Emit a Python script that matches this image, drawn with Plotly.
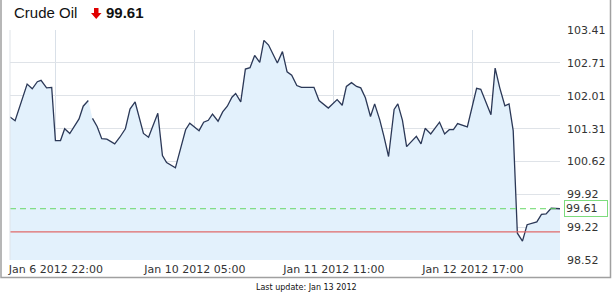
import plotly.graph_objects as go

# trading-time index (hours after Jan 6 2012 22:00, tick every 30)
t = [-9.9, -8.8, -6.2, -5.1, -4.0, -3.2, -2.0, -0.9, -0.1, 1.0, 1.9, 3.0, 5.0, 5.9, 7.0,
     7.9, 8.9, 9.9, 11.0, 12.7, 13.8, 15.0, 16.0, 17.1, 18.9, 20.0, 22.0, 23.0, 23.9, 25.8,
     27.0, 28.0, 28.9, 30.9, 31.9, 32.9, 33.8, 35.0, 36.0, 37.0, 38.0, 38.8, 39.9, 40.9,
     41.9, 42.9, 44.0, 44.9, 45.9, 47.8, 48.9, 49.9, 50.9, 52.0, 53.0, 54.1, 55.7, 56.8,
     58.8, 60.7, 61.8, 62.7, 63.8, 64.9, 65.8, 66.8, 67.9, 68.8, 69.9, 70.8, 71.8, 73.0,
     73.8, 74.8, 75.7, 77.8, 78.8, 79.7, 80.9, 82.8, 83.9, 84.9, 85.8, 86.7, 87.8, 88.8,
     90.8, 91.7, 93.9, 94.8, 95.8, 96.9, 97.8, 98.7, 99.6, 100.7, 101.7, 102.8, 103.8,
     104.8, 105.8, 106.9, 108.8]
price = [101.56, 101.48, 102.26, 102.16, 102.31, 102.34, 102.18, 102.19, 101.06, 101.06,
         101.31, 101.21, 101.52, 101.79, 101.91,
         101.53, 101.36, 101.10, 101.09, 100.99, 101.13, 101.31, 101.73, 101.88, 101.21,
         101.13, 101.64, 100.74, 100.59, 100.48, 100.93, 101.29, 101.43, 101.27, 101.45,
         101.49, 101.62, 101.47, 101.67, 101.79, 101.98, 102.06, 101.88, 102.58, 102.61,
         102.87, 102.72, 103.19, 103.09, 102.71, 102.95, 102.52, 102.45, 102.23, 102.19,
         102.19, 102.19, 101.91, 101.75, 101.93, 101.81, 102.21, 102.29, 102.21, 102.18,
         101.97, 101.57, 101.84, 101.50, 101.15, 100.72, 101.72, 101.84, 101.49, 100.93,
         101.15, 100.99, 101.32, 101.20, 101.45, 101.20, 101.29, 101.29, 101.42, 101.38,
         101.35, 102.17, 102.15, 101.61, 102.60, 102.18, 101.80, 101.84, 101.27, 99.09,
         98.92, 99.27, 99.30, 99.33, 99.49, 99.50, 99.62, 99.61]
gap_after = 15  # data gap in the line after this many points

y_ticks = [98.52, 99.22, 99.92, 100.62, 101.31, 102.01, 102.71, 103.41]
x_tick_vals = [0, 30, 60, 90]
x_tick_text = ["Jan 6 2012 22:00", "Jan 10 2012 05:00", "Jan 11 2012 11:00", "Jan 12 2012 17:00"]
last_price = 99.61
prev_close = 99.12
title = "Crude Oil"
footer = "Last update: Jan 13 2012"

W, H = 612, 300
L, R, T, B = 10, 52, 30, 40
pw, ph = W - L - R, H - T - B


def px(x):
    return (x - L) / pw


def py(y):
    return (H - B - y) / ph


fig = go.Figure()
fig.add_trace(go.Scatter(x=t, y=price, mode="lines", line=dict(width=0),
                         fill="tozeroy", fillcolor="#e3f1fc", hoverinfo="skip",
                         showlegend=False))
line_x = t[:gap_after] + [None] + t[gap_after:]
line_y = price[:gap_after] + [None] + price[gap_after:]
fig.add_trace(go.Scatter(x=line_x, y=line_y, mode="lines",
                         line=dict(color="#2b3857", width=1.3),
                         connectgaps=False, showlegend=False))
fig.add_trace(go.Scatter(x=[t[0], t[-1]], y=[last_price, last_price], mode="lines",
                         line=dict(color="#66d866", width=1, dash="6px,4px"),
                         showlegend=False))
fig.add_trace(go.Scatter(x=[t[0], t[-1]], y=[prev_close, prev_close], mode="lines",
                         line=dict(color="#e06a6a", width=1.2), showlegend=False))

fig.update_layout(
    width=W, height=H,
    margin=dict(l=L, r=R, t=T, b=B, pad=0, autoexpand=False),
    paper_bgcolor="white", plot_bgcolor="white",
    font=dict(family="DejaVu Sans", size=11, color="#333"),
    xaxis=dict(range=[t[0], t[-1]], tickvals=x_tick_vals, ticktext=x_tick_text,
               showgrid=True, gridcolor="#d9e0e8", gridwidth=1, zeroline=False,
               showline=False, ticks="", ticklabelstandoff=1, automargin=False,
               tickfont=dict(size=11, color="#333")),
    yaxis=dict(range=[y_ticks[0], y_ticks[-1]], side="right", tickvals=y_ticks,
               ticktext=[f"{v:.2f}" for v in y_ticks],
               showgrid=True, gridcolor="#dfe3e8", gridwidth=1, zeroline=False,
               showline=False, ticks="", ticklabelstandoff=6, automargin=False,
               tickfont=dict(size=11, color="#333")),
    shapes=[
        # outer frame
        dict(type="rect", xref="paper", yref="paper", x0=px(1), x1=px(610.5),
             y0=py(277.5), y1=py(-5), line=dict(color="#a0a0a0", width=1.5)),
        # left plot edge
        dict(type="line", xref="paper", yref="paper", x0=0, x1=0, y0=0, y1=1,
             line=dict(color="#dfe3e8", width=1)),
        # red down arrow
        dict(type="path", xref="paper", yref="paper",
             path=(f"M {px(94)},{py(8)} L {px(98.5)},{py(8)} L {px(98.5)},{py(13)} "
                   f"L {px(101.5)},{py(13)} L {px(96.2)},{py(19)} L {px(91)},{py(13)} "
                   f"L {px(94)},{py(13)} Z"),
             fillcolor="#e00000", line=dict(width=0)),
    ],
    annotations=[
        dict(text=title, xref="paper", yref="paper", x=px(12), y=py(13),
             xanchor="left", yanchor="middle", showarrow=False,
             font=dict(family="Liberation Sans", size=15, color="#111")),
        dict(text=f"<b>{last_price:.2f}</b>", xref="paper", yref="paper", x=px(104),
             y=py(13), xanchor="left", yanchor="middle", showarrow=False,
             font=dict(family="Liberation Sans", size=15, color="#111")),
        dict(text=f"{last_price:.2f}", xref="paper", yref="y", x=px(564), y=last_price,
             xanchor="left", yanchor="middle", showarrow=False,
             bordercolor="#7ddc7d", borderwidth=1, borderpad=1, bgcolor="white",
             width=40, align="left",
             font=dict(family="DejaVu Sans", size=11, color="#333")),
        dict(text=footer, xref="paper", yref="paper", x=px(306), y=py(287),
             xanchor="center", yanchor="middle", showarrow=False,
             font=dict(family="DejaVu Sans", size=8, color="#111")),
    ],
)

fig.write_html("out.html")
